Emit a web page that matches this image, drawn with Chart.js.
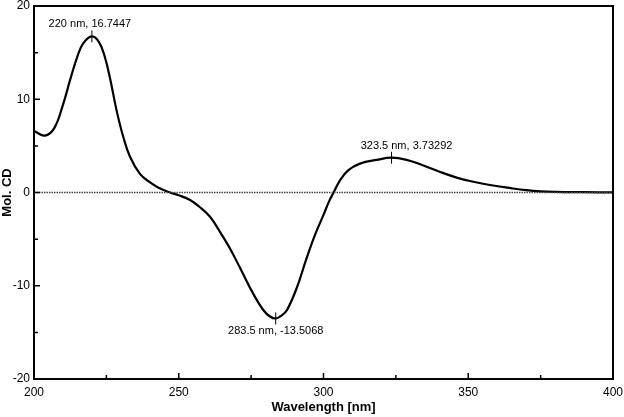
<!DOCTYPE html>
<html>
<head>
<meta charset="utf-8">
<script src="https://cdn.jsdelivr.net/npm/chart.js@4.4.1/dist/chart.umd.min.js"></script>
<style>
  html, body { margin: 0; padding: 0; background: #fff; }
  #wrap { width: 624px; height: 417px; }
</style>
</head>
<body>
<div id="wrap"><canvas id="cd-chart"></canvas></div>
<script>
const wavelengths = [200, 203.8, 207, 210, 212.5, 215, 217, 220, 222.5, 224.5, 226.3, 228.6, 230.8, 233.2, 236.6, 240, 243, 247,
  250, 253.9, 257, 260.8, 264, 267.7, 271.2, 275.8, 279.2, 281.5, 283.5, 285.5, 287.4, 290.8, 294, 297, 300, 302, 303.5,
  305.7, 308.6, 312.6, 318.4, 323.5, 328.7, 334.5, 340.3, 346, 351.8, 357.5, 365, 370, 375, 380, 390, 400];
const molCD = [6.6, 6.1, 6.9, 9.4, 12.1, 14.6, 16.0, 16.74, 16.1, 14.5, 12.2, 8.7, 6.0, 3.8, 2.0, 1.1, 0.5, 0.0,
  -0.3, -0.8, -1.5, -2.6, -4.1, -6.0, -8.1, -10.9, -12.6, -13.3, -13.51, -13.2, -12.6, -10.2, -7.2, -4.6, -2.4, -0.9, 0.0,
  1.3, 2.4, 3.1, 3.5, 3.73, 3.5, 2.9, 2.2, 1.6, 1.15, 0.8, 0.45, 0.25, 0.12, 0.06, 0.03, 0.02];

const peakX = [220, 283.5, 323.5];
const peakY = [16.7447, -13.5068, 3.73292];
const peakLabels = ['220 nm, 16.7447', '283.5 nm, -13.5068', '323.5 nm, 3.73292'];

const xLabels = [200, 250, 300, 350, 400];
const yLabels = [-20, -10, 0, 10, 20];

const FONT = "'Liberation Sans', Arial, sans-serif";

// frame, inward tick marks and peak markers
const plotDecor = {
  id: 'plotDecor',
  afterDatasetsDraw(chart) {
    const { ctx, chartArea: a, scales } = chart;
    ctx.save();
    ctx.strokeStyle = '#000';
    ctx.lineWidth = 2;
    ctx.strokeRect(a.left, a.top, a.right - a.left, a.bottom - a.top);

    ctx.lineWidth = 1.5;
    ctx.beginPath();
    for (let v = 225; v < 400; v += 25) {
      const px = scales.x.getPixelForValue(v);
      const len = (v % 50 === 0) ? 6 : 4;
      ctx.moveTo(px, a.bottom);
      ctx.lineTo(px, a.bottom - len);
    }
    for (let v = -15; v < 20; v += 5) {
      const py = scales.y.getPixelForValue(v);
      const len = (v % 10 === 0) ? 6 : 4;
      ctx.moveTo(a.left, py);
      ctx.lineTo(a.left + len, py);
    }
    ctx.stroke();

    ctx.lineWidth = 1;
    ctx.font = '11px ' + FONT;
    ctx.fillStyle = '#000';
    ctx.textBaseline = 'middle';
    ctx.textAlign = 'center';
    for (let i = 0; i < peakX.length; i++) {
      const px = scales.x.getPixelForValue(peakX[i]);
      const py = scales.y.getPixelForValue(peakY[i]);
      ctx.beginPath();
      ctx.moveTo(px, py - 6);
      ctx.lineTo(px, py + 6);
      ctx.stroke();
      if (peakY[i] < 0) {
        ctx.fillText(peakLabels[i], px, py + 13);
      } else if (i === 2) {
        ctx.fillText(peakLabels[i], px + 15, py - 12);
      } else {
        ctx.fillText(peakLabels[i], px - 2, py - 12);
      }
    }
    ctx.restore();
  }
};

new Chart(document.getElementById('cd-chart'), {
  type: 'line',
  data: {
    datasets: [
      {
        label: 'zero',
        data: [{ x: 200, y: 0 }, { x: 400, y: 0 }],
        borderColor: '#444',
        borderWidth: 1.5,
        borderDash: [1.5, 1],
        pointRadius: 0
      },
      {
        label: 'Mol. CD',
        data: wavelengths.map((w, i) => ({ x: w, y: molCD[i] })),
        borderColor: '#000',
        borderWidth: 2.2,
        pointRadius: 0,
        tension: 0.4
      }
    ]
  },
  options: {
    responsive: true,
    maintainAspectRatio: false,
    animation: false,
    layout: { padding: { left: 0, right: 11, top: 6, bottom: 0 } },
    plugins: { legend: { display: false }, tooltip: { enabled: false } },
    scales: {
      x: {
        type: 'linear',
        min: 200,
        max: 400,
        afterBuildTicks: (s) => { s.ticks = xLabels.map(v => ({ value: v })); },
        afterFit: (s) => { s.height = 38; s.paddingLeft = 0; s.paddingRight = 0; },
        grid: { display: false, drawTicks: false },
        border: { display: false },
        ticks: { color: '#000', font: { family: FONT, size: 12 }, padding: 6, maxRotation: 0 },
        title: {
          display: true,
          text: 'Wavelength [nm]',
          color: '#000',
          font: { family: FONT, size: 13, weight: 'bold' },
          padding: { top: 0, bottom: 2 }
        }
      },
      y: {
        min: -20,
        max: 20,
        afterBuildTicks: (s) => { s.ticks = yLabels.map(v => ({ value: v })); },
        afterFit: (s) => { s.width = 34; s.paddingTop = 0; s.paddingBottom = 0; },
        grid: { display: false, drawTicks: false },
        border: { display: false },
        ticks: { color: '#000', font: { family: FONT, size: 12 }, padding: 4 },
        title: {
          display: true,
          text: 'Mol. CD',
          color: '#000',
          font: { family: FONT, size: 13, weight: 'bold' },
          padding: { top: 0, bottom: 0 }
        }
      }
    }
  },
  plugins: [plotDecor]
});
</script>
</body>
</html>
